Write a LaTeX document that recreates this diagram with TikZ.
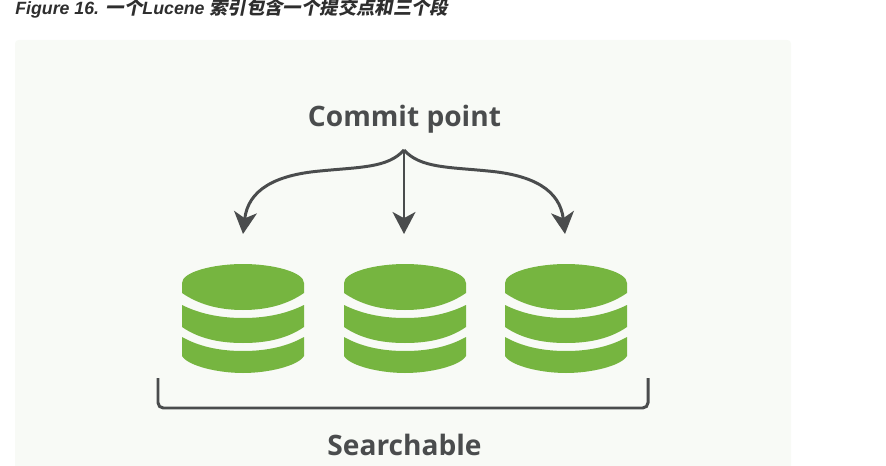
\documentclass[tikz,border=0pt]{standalone}
\usepackage{fontspec}
\usepackage{tikz}
\usetikzlibrary{arrows.meta}

\setmainfont{Liberation Sans}
\newfontfamily\labelfont{Open Sans}
\newfontfamily\cjkfont[Scale=1.035, BoldFeatures={FakeSlant=0.2}]{Noto Sans CJK SC}

\definecolor{panelbg}{HTML}{F8FAF6}
\definecolor{seggreen}{HTML}{76B540}
\definecolor{darkline}{HTML}{4A4C4D}
\definecolor{titlegray}{HTML}{2E2E2E}

\tikzset{
    biglabel/.style = {anchor=base, darkline, font=\labelfont\fontsize{16}{20}\selectfont\bfseries},
    arrowline/.style = {darkline, line width=1.7pt, -{Stealth[length=12.5pt, width=13pt, inset=3.5pt]}},
    segment/.pic = {
        \fill [seggreen] (-61,19) .. controls (-61,8) and (-30,0) .. (0,0)
            .. controls (30,0) and (61,8) .. (61,19) -- (61,29)
            .. controls (45,40) and (25,46) .. (0,46)
            .. controls (-25,46) and (-45,40) .. (-61,29) -- cycle;
        \fill [seggreen] (-61,41) .. controls (-45,49) and (-25,54) .. (0,54)
            .. controls (25,54) and (45,49) .. (61,41) -- (61,63)
            .. controls (45,74) and (25,79) .. (0,79)
            .. controls (-25,79) and (-45,74) .. (-61,63) -- cycle;
        \fill [seggreen] (-61,73) .. controls (-45,82) and (-25,87) .. (0,87)
            .. controls (25,87) and (45,82) .. (61,73) -- (61,92)
            .. controls (55,102) and (25,109) .. (0,109)
            .. controls (-25,109) and (-55,102) .. (-61,92) -- cycle;
    }
}

\begin{document}
\begin{tikzpicture}[x=0.02cm, y=-0.02cm]
        \useasboundingbox (0,0) rectangle (886,466);
        \fill [panelbg, rounded corners=2pt] (15,40) rectangle (791,470);

        % caption
        \node (caption) [anchor=base west, inner sep=0pt, titlegray, font=\fontsize{10.1}{12}\selectfont\bfseries]
            at (15,14.5) {\itshape Figure 16. {\upshape\cjkfont 一个}Lucene {\upshape\cjkfont 索引包含一个提交点和三个段}};

        \node (commit) [biglabel] at (404.5,127) {Commit point};
        \node (searchable) [biglabel] at (404.5,455) {Searchable};

        % three segments
        \foreach \segx in {243,405,566}
            \pic at (\segx,264) {segment};

        % arrows
        \coordinate (fork) at (404,150);
        \coordinate (leftend) at (243,234);
        \coordinate (midend) at (404,234);
        \coordinate (rightend) at (565,234);
        \draw [arrowline] (fork) .. controls (388,168) and (360,167) .. (320,171)
            .. controls (275,175) and (248,190) .. (leftend);
        \draw [arrowline] (fork) -- (midend);
        \draw [arrowline] (fork) .. controls (420,168) and (448,167) .. (488,171)
            .. controls (533,175) and (560,190) .. (rightend);

        % bracket
        \coordinate (brleft) at (158,378);
        \coordinate (brright) at (648,378);
        \draw [darkline, line width=1.7pt, rounded corners=3pt] (brleft) |- (403,408) -| (brright);
    \end{tikzpicture}
\end{document}
